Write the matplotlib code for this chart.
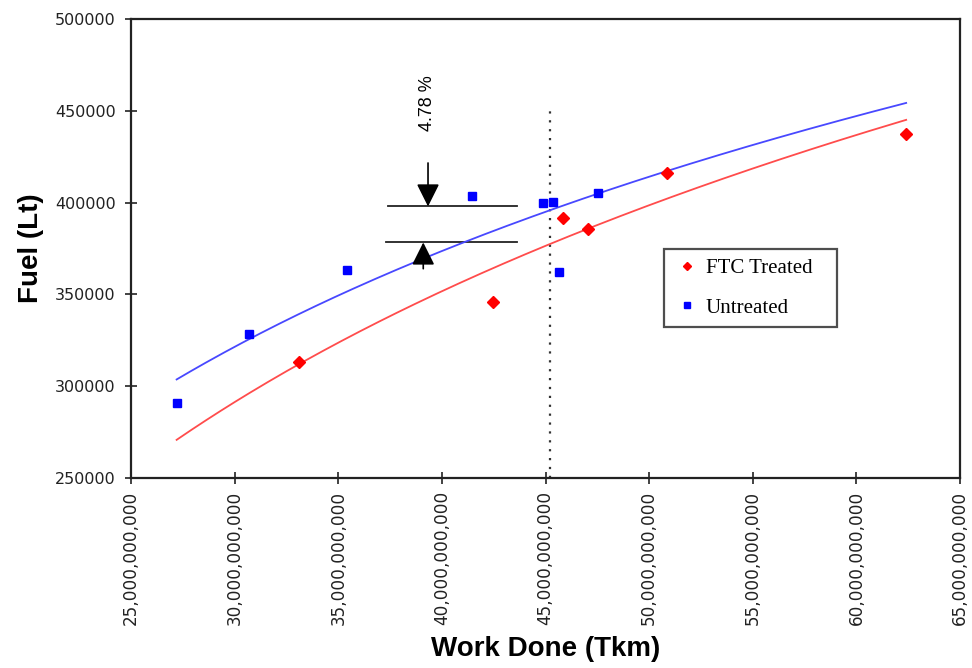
import numpy as np
import matplotlib.pyplot as plt
from matplotlib.ticker import FuncFormatter, MultipleLocator

# FTC treated vehicles (work done in Tkm, fuel in litres)
ftc_work = [33.12e9, 42.45e9, 45.82e9, 47.07e9, 50.87e9, 62.40e9]
ftc_fuel = [313300, 346100, 391400, 385900, 415900, 437200]

# Untreated vehicles
unt_work = [27.20e9, 30.67e9, 35.43e9, 41.44e9, 44.86e9, 45.38e9, 45.67e9, 47.55e9]
unt_fuel = [290900, 328600, 363500, 403400, 399600, 400600, 362400, 405500]

# reference lines for the 4.78 % gap
ref_work = 45.2e9
gap_hi = 397900
gap_lo = 378300
gap_label = '4.78 %'

fig = plt.figure(figsize=(9.72, 6.68), dpi=100)
ax = fig.add_axes([0.1348, 0.2844, 0.8529, 0.6871])

# log trendlines (Excel style) over the whole data range
xs = np.linspace(min(unt_work + ftc_work), max(unt_work + ftc_work), 200)
for wx, fy, col in [(unt_work, unt_fuel, '#4848ff'), (ftc_work, ftc_fuel, '#ff4c4c')]:
    k, c = np.polyfit(np.log(wx), fy, 1)
    ax.plot(xs, k * np.log(xs) + c, color=col, lw=1.3, zorder=2)

ax.plot(ftc_work, ftc_fuel, 'D', color='red', ms=6, ls='none', label='FTC Treated', zorder=3)
ax.plot(unt_work, unt_fuel, 's', color='blue', ms=5.5, ls='none', label='Untreated', zorder=3)

# dotted vertical marker
ax.plot([ref_work, ref_work], [250000, 452300], color='#333333', ls=(0, (1, 3)), lw=1.6, zorder=1)

# gap lines and arrows
ax.plot([37.4e9, 43.6e9], [gap_hi, gap_hi], color='#222222', lw=1.3, zorder=1)
ax.plot([37.3e9, 43.6e9], [gap_lo, gap_lo], color='#222222', lw=1.3, zorder=1)
arw = dict(arrowstyle='-|>,head_length=1.4,head_width=0.7', color='black', lw=1.2,
           shrinkA=0, shrinkB=0)
ax.annotate('', xy=(39.33e9, gap_hi), xytext=(39.33e9, 421600), arrowprops=arw)
ax.annotate('', xy=(39.1e9, gap_lo), xytext=(39.1e9, 364000), arrowprops=arw)
ax.text(39.3e9, 454250, gap_label, rotation=90, ha='center', va='center',
        fontsize=13, family='Liberation Sans')

ax.set_xlim(25e9, 65e9)
ax.set_ylim(250000, 500000)
ax.xaxis.set_major_locator(MultipleLocator(5e9))
ax.yaxis.set_major_locator(MultipleLocator(50000))
ax.xaxis.set_major_formatter(FuncFormatter(lambda v, p: f'{v:,.0f}'))
ax.yaxis.set_major_formatter(FuncFormatter(lambda v, p: f'{v:.0f}'))
ax.tick_params(direction='inout', length=8, width=1.2, labelsize=11.5, colors='#222222')
ax.tick_params(axis='y', pad=7)
ax.tick_params(axis='x', pad=5, labelrotation=90, labelsize=12.2)
for s in ax.spines.values():
    s.set_linewidth(1.6)
    s.set_color('#222222')

ax.set_xlabel('Work Done (Tkm)', family='Liberation Sans', fontweight='bold', fontsize=20, labelpad=8)
ax.set_ylabel('Fuel (Lt)', family='Liberation Sans', fontweight='bold', fontsize=20, labelpad=8)

leg = ax.legend(loc='lower left', bbox_to_anchor=(0.643, 0.329, 0.209, 0.18), mode='expand',
                prop={'family': 'Liberation Serif', 'size': 15}, frameon=True, fancybox=False,
                markerscale=0.75, handlelength=1.3, handletextpad=0.25, labelspacing=0.95,
                borderpad=0.45, borderaxespad=0)
leg.get_frame().set_edgecolor('#222222')
leg.get_frame().set_linewidth(1.6)

fig.savefig('out.png', dpi=100)
